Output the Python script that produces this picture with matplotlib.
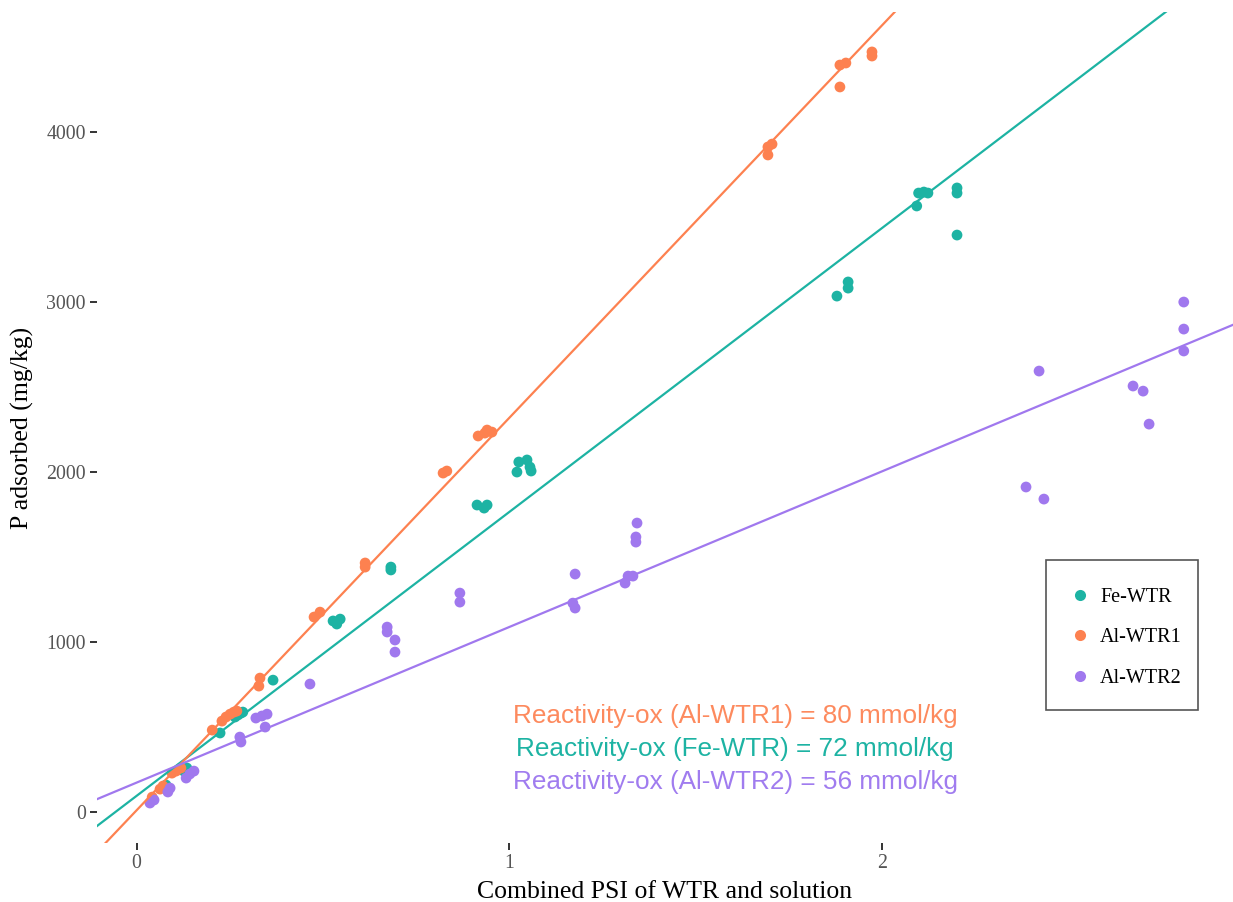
import matplotlib
matplotlib.use("Agg")
import matplotlib.pyplot as plt
import numpy as np
from matplotlib.lines import Line2D
from matplotlib.patches import Rectangle

# ---- data ----
series_names = ["Fe-WTR", "Al-WTR1", "Al-WTR2"]

fe_x = [0.079, 0.117, 0.127, 0.135, 0.224, 0.264, 0.272, 0.280, 0.285, 0.366,
        0.527, 0.537, 0.546, 0.682, 0.682, 0.913, 0.932, 0.940, 1.020, 1.025,
        1.047, 1.055, 1.058, 1.878, 1.908, 1.908, 2.092, 2.097, 2.111, 2.122,
        2.200, 2.200, 2.200]
fe_y = [159, 253, 241, 259, 465, 559, 571, 582, 588, 776,
        1124, 1106, 1135, 1441, 1424, 1806, 1788, 1806, 2000, 2059,
        2071, 2029, 2006, 3035, 3118, 3082, 3565, 3641, 3647, 3641,
        3671, 3641, 3394]

al1_x = [0.042, 0.063, 0.071, 0.095, 0.106, 0.119, 0.203, 0.229, 0.240, 0.251,
         0.261, 0.269, 0.331, 0.328, 0.476, 0.492, 0.613, 0.613, 0.822, 0.832,
         0.916, 0.934, 0.940, 0.953, 1.693, 1.704, 1.693, 1.886, 1.902, 1.886,
         1.972, 1.972]
al1_y = [88, 135, 153, 229, 241, 259, 482, 535, 559, 576,
         588, 594, 788, 741, 1147, 1176, 1465, 1441, 1994, 2006,
         2212, 2229, 2247, 2235, 3912, 3929, 3865, 4394, 4406, 4265,
         4471, 4447]

al2_x = [0.036, 0.047, 0.084, 0.090, 0.133, 0.143, 0.154, 0.277, 0.280, 0.320,
         0.336, 0.350, 0.345, 0.465, 0.672, 0.672, 0.693, 0.693, 0.867, 0.867,
         1.170, 1.176, 1.176, 1.310, 1.318, 1.331, 1.342, 1.339, 1.339, 2.385,
         2.433, 2.420, 2.672, 2.699, 2.715, 2.808, 2.808, 2.808]
al2_y = [53, 71, 118, 141, 200, 224, 241, 441, 412, 553,
         565, 576, 500, 753, 1088, 1059, 1012, 941, 1288, 1235,
         1229, 1200, 1400, 1347, 1388, 1388, 1700, 1618, 1588, 1912,
         1841, 2594, 2506, 2476, 2282, 3000, 2841, 2712]

# fitted lines: intercept, slope
fit_intercept = [95, 10, 173]
fit_slope = [1671, 2310, 916]

annotations = ["Reactivity-ox (Al-WTR1) = 80 mmol/kg",
               "Reactivity-ox (Fe-WTR) = 72 mmol/kg",
               "Reactivity-ox (Al-WTR2) = 56 mmol/kg"]

x_ticks = [0, 1, 2]
y_ticks = [0, 1000, 2000, 3000, 4000]

colors = ["#1db3a3", "#fd8150", "#a078ee"]
text_colors = ["#1db3a3", "#fd8a5e", "#a07cef"]

# ---- figure ----
W, H = 1233, 902
L, R, T, B = 97, 1233, 12, 843
fig = plt.figure(figsize=(W/100, H/100), dpi=100)
ax = fig.add_axes([L/W, 1 - B/H, (R - L)/W, (B - T)/H])

xlim = (-0.106, 2.94)
ylim = (-182, 4706)
ax.set_xlim(*xlim)
ax.set_ylim(*ylim)

xs = [fe_x, al1_x, al2_x]
ys = [fe_y, al1_y, al2_y]
for x, y, c in zip(xs, ys, colors):
    ax.scatter(x, y, s=60, color=c, edgecolors="none", zorder=2)

xx = np.array(xlim)
for a, b, c in zip(fit_intercept, fit_slope, colors):
    ax.plot(xx, a + b * xx, color=c, lw=1.6, zorder=3)

for s in ax.spines.values():
    s.set_visible(False)

serif = ["Liberation Serif", "DejaVu Serif"]
ax.set_xticks(x_ticks)
ax.set_yticks(y_ticks)
ax.set_xticklabels([str(t) for t in x_ticks], family=serif, fontsize=14.3, color="#555555")
ax.set_yticklabels([str(t) for t in y_ticks], family=serif, fontsize=14.3, color="#555555")
ax.tick_params(axis="both", length=5, width=1.4, color="#333333", pad=3)

ax.set_xlabel("Combined PSI of WTR and solution", family=serif, fontsize=18.5, color="black", labelpad=6)
ax.set_ylabel("P adsorbed (mg/kg)", family=serif, fontsize=18.5, color="black", labelpad=9)

# annotations (orange, teal, purple order)
ann_colors = [text_colors[1], text_colors[0], text_colors[2]]
ann_y = [716, 749, 782]
for t, c, py in zip(annotations, ann_colors, ann_y):
    fig.text(735/W, 1 - py/H, t, color=c, fontsize=18.8, family=["Liberation Sans", "DejaVu Sans"],
             ha="center", va="center")

# legend frame
fig.patches.append(Rectangle((1046/W, 1 - 710/H), (1198 - 1046)/W, (710 - 560)/H,
                             transform=fig.transFigure, facecolor="white",
                             edgecolor="#555555", lw=1.2, zorder=4))

handles = [Line2D([0], [0], marker="o", linestyle="none", markersize=8,
                  markerfacecolor=c, markeredgecolor="none") for c in colors]
leg = fig.legend(handles, series_names, loc="upper left",
                 bbox_to_anchor=(1069/W, 1 - 588/H),
                 frameon=False, prop={"family": serif, "size": 14.5}, labelspacing=1.05,
                 borderpad=0, handlelength=1.1, handletextpad=0.45, borderaxespad=0)
leg.set_zorder(5)

fig.savefig("out.png", dpi=100)
